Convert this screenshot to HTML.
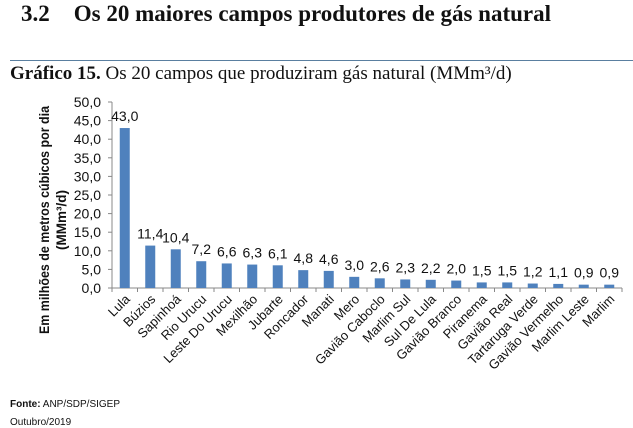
<!DOCTYPE html>
<html><head><meta charset="utf-8"><style>
body{margin:0;width:633px;height:428px;background:#fff;overflow:hidden;font-family:"Liberation Sans",sans-serif}
.h{position:absolute;font-family:"Liberation Serif",serif;font-weight:bold;font-size:23px;top:1px;left:21px;color:#111}
.sub{position:absolute;font-family:"Liberation Serif",serif;font-size:19px;top:63px;left:10px;color:#111}
.f{position:absolute;font-size:10px;color:#111;font-family:"Liberation Sans Narrow","Liberation Sans",sans-serif}
</style></head><body>
<div class="h">3.2<span style="margin-left:24px">Os 20 maiores campos produtores de gás natural</span></div>
<div style="position:absolute;left:10px;top:60px;width:623px;height:1px;background:#5a7fa0"></div>
<div class="sub"><b>Gráfico 15.</b> Os 20 campos que produziram gás natural (MMm³/d)</div>
<svg id="c" width="633" height="428" style="position:absolute;left:0;top:0"></svg>
<div class="f" style="left:10px;top:399px"><b>Fonte:</b> ANP/SDP/SIGEP</div>
<div class="f" style="left:10px;top:417px">Outubro/2019</div>
<script>
const categories=["Lula","Búzios","Sapinhoá","Rio Urucu","Leste Do Urucu","Mexilhão","Jubarte","Roncador","Manati","Mero","Gavião Caboclo","Marlim Sul","Sul De Lula","Gavião Branco","Piranema","Gavião Real","Tartaruga Verde","Gavião Vermelho","Marlim Leste","Marlim"];
const values=[43.0,11.4,10.4,7.2,6.6,6.3,6.1,4.8,4.6,3.0,2.6,2.3,2.2,2.0,1.5,1.5,1.2,1.1,0.9,0.9];
const ticks=[0,5,10,15,20,25,30,35,40,45,50];
const NS="http://www.w3.org/2000/svg",svg=document.getElementById('c');
const x0=112,x1=622,yTop=102,yBot=288,ymax=50;
const y=v=>yBot-(v/ymax)*(yBot-yTop);
const step=(x1-x0)/categories.length;
const xc=i=>x0+step*(i+0.5);
function mk(t,a,txt){const e=document.createElementNS(NS,t);for(const k in a)e.setAttribute(k,a[k]);if(txt!==undefined)e.textContent=txt;svg.appendChild(e);return e;}
let e=mk('line',{x1:x0,y1:yTop,x2:x0,y2:yBot,stroke:'#888'});


e=mk('line',{x1:x0,y1:yBot,x2:x1,y2:yBot,stroke:'#888'});


ticks.forEach(t=>{
 mk('line',{x1:x0-4,y1:y(t),x2:x0,y2:y(t),stroke:'#888'});
 e=mk('text',{x:x0-11,y:y(t)+5,'text-anchor':'end','font-size':14,fill:'#111'},t.toFixed(1).replace('.',','));
 
 
});
for(let i=0;i<=categories.length;i++)mk('line',{x1:x0+step*i,y1:yBot,x2:x0+step*i,y2:yBot+4,stroke:'#888'});
categories.forEach((c,i)=>{
 const v=values[i];
 e=mk('rect',{x:xc(i)-5,y:y(v),width:10,height:yBot-y(v),fill:'#4f81bd'});
 
 
 e=mk('text',{x:xc(i),y:y(v)-7,'text-anchor':'middle','font-size':14,fill:'#111'},v.toFixed(1).replace('.',','));
 
 
 e=mk('text',{x:xc(i)+6,y:yBot+12,'text-anchor':'end','font-size':13,fill:'#111',transform:`rotate(-45 ${xc(i)+6} ${yBot+12})`},c);
 
 
});
e=mk('text',{x:0,y:0,'text-anchor':'middle','font-size':13.5,'font-weight':'bold',fill:'#111',textLength:228,lengthAdjust:'spacingAndGlyphs',transform:'translate(49,220) rotate(-90)'},'Em milhões de metros cúbicos por dia');


e=mk('text',{x:0,y:0,'text-anchor':'middle','font-size':13.5,'font-weight':'bold',fill:'#111',transform:'translate(66,220) rotate(-90)'},'(MMm³/d)');


</script>
</body></html>
